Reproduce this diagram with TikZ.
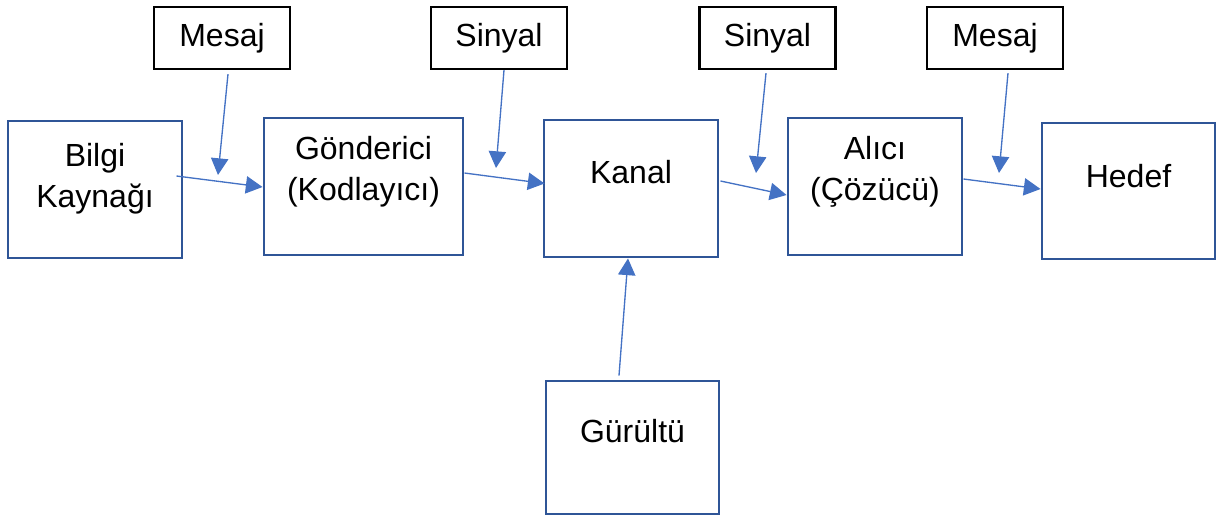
\documentclass[tikz,border=0pt]{standalone}
\usepackage{fontspec}
\setmainfont{Liberation Sans}
\usetikzlibrary{arrows.meta,calc}
\definecolor{boxblue}{HTML}{2F5597}
\definecolor{arrowblue}{HTML}{4472C4}
\tikzset{
  block/.style={draw=boxblue, line width=2.2pt, inner sep=0pt, anchor=center},
  tag/.style={draw=black, line width=1.6pt, inner sep=0pt, minimum width=136*0.75pt,
    minimum height=62*0.75pt, font=\fontsize{24}{30}\selectfont},
  blocktext/.style={align=center, inner sep=0pt, font=\fontsize{24}{30.75}\selectfont},
  flow/.style={draw=arrowblue, line width=1pt, -{Triangle[length=12.5pt,width=13pt]}},
}
\begin{document}
\begin{tikzpicture}[x=0.75pt, y=-0.75pt]
\useasboundingbox (0,0) rectangle (1223,515);

% main blocks
\node[block, minimum width=174*0.75pt, minimum height=137*0.75pt] (bilgi) at (95,189.5) {};
\node[block, minimum width=199*0.75pt, minimum height=137*0.75pt] (gonderici) at (363.5,186.5) {};
\node[block, minimum width=174*0.75pt, minimum height=137*0.75pt] (kanal) at (631,188.5) {};
\node[block, minimum width=174*0.75pt, minimum height=137*0.75pt] (alici) at (875,186.5) {};
\node[block, minimum width=173*0.75pt, minimum height=136*0.75pt] (hedef) at (1128.5,191) {};
\node[block, minimum width=173*0.75pt, minimum height=133*0.75pt] (gurultu) at (632.5,447.5) {};

% block captions
\node[blocktext] (bilgi-t) at ($(bilgi)+(0,-11)$) {Bilgi\\Kaynağı};
\node[blocktext] (gonderici-t) at ($(gonderici)+(0,-15)$) {Gönderici\\(Kodlayıcı)};
\node[blocktext] (kanal-t) at ($(kanal)+(0,-16)$) {Kanal};
\node[blocktext] (alici-t) at ($(alici)+(0,-15)$) {Alıcı\\(Çözücü)};
\node[blocktext] (hedef-t) at ($(hedef)+(0,-15)$) {Hedef};
\node[blocktext] (gurultu-t) at ($(gurultu)+(0,-16.5)$) {Gürültü};

% tags above the flow
\node[tag] (mesaj1) at (222,38) {Mesaj};
\node[tag] (sinyal1) at (499,38) {Sinyal};
\node[tag] (sinyal2) at (767.5,38) {Sinyal};
\node[tag] (mesaj2) at (995,38) {Mesaj};

% free ends of the tag arrows
\coordinate (m1end) at (218,175);
\coordinate (s1end) at (496,168);
\coordinate (s2end) at (756,173);
\coordinate (m2end) at (999,173);

% main flow
\draw[flow] ($(bilgi.east)+(-7,-13.5)$) -- ($(gonderici.west)+(0,0.5)$);
\draw[flow] ($(gonderici.east)+(0,-13.5)$) -- ($(kanal.west)+(2,-5)$);
\draw[flow] ($(kanal.east)+(1,-7.5)$) -- ($(alici.west)+(0,8.5)$);
\draw[flow] ($(alici.east)+(0,-7.5)$) -- ($(hedef.west)+(0,-2)$);

% tag arrows
\draw[flow] ($(mesaj1.south)+(6,4)$) -- (m1end);
\draw[flow] ($(sinyal1.south)+(5,0)$) -- (s1end);
\draw[flow] ($(sinyal2.south)+(-1.5,3)$) -- (s2end);
\draw[flow] ($(mesaj2.south)+(13,3)$) -- (m2end);

% noise into the channel
\draw[flow] ($(gurultu.north)+(-13.5,-4)$) -- ($(kanal.south)+(-3,0)$);
\end{tikzpicture}
\end{document}
